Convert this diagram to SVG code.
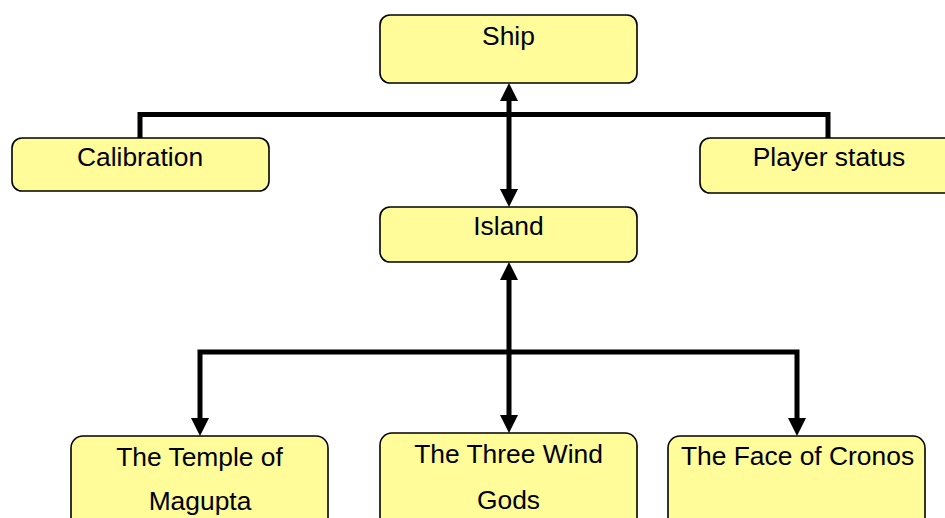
<svg xmlns="http://www.w3.org/2000/svg" width="945" height="518" viewBox="0 0 945 518">
  <style>
    .box { fill: #FFFC99; stroke: #000; stroke-width: 1.6; }
    .lbl { font-family: "Liberation Sans", Arial, sans-serif; font-size: 26.4px; fill: #000; text-anchor: middle; }
    .wire { fill: none; stroke: #000; stroke-width: 5; }
  </style>
  <defs>
    <marker id="arrow" markerUnits="userSpaceOnUse" markerWidth="18" markerHeight="18" refX="0" refY="9" orient="auto-start-reverse" viewBox="0 0 18 18">
      <path d="M0,0 L18,9 L0,18 z" fill="#000"/>
    </marker>
  </defs>

  <rect width="945" height="518" fill="#fff"/>

  <!-- connectors -->
  <g id="connectors">
    <path class="wire" d="M140,138 V114.5 H828 V138"/>
    <path class="wire" d="M509,101 V189" marker-start="url(#arrow)" marker-end="url(#arrow)"/>
    <path class="wire" d="M200,418 V352 H797 V418" marker-start="url(#arrow)" marker-end="url(#arrow)"/>
    <path class="wire" d="M509,280 V415" marker-start="url(#arrow)" marker-end="url(#arrow)"/>
  </g>

  <g id="ship">
    <rect class="box" x="380" y="15" width="257" height="68" rx="10"/>
    <text class="lbl" x="508.5" y="45">Ship</text>
  </g>
  <g id="calibration">
    <rect class="box" x="12" y="138" width="257" height="53" rx="10"/>
    <text class="lbl" x="140" y="166">Calibration</text>
  </g>
  <g id="player-status">
    <rect class="box" x="700" y="138" width="257" height="55" rx="10"/>
    <text class="lbl" x="829" y="166">Player status</text>
  </g>
  <g id="island">
    <rect class="box" x="380" y="207" width="257" height="55" rx="10"/>
    <text class="lbl" x="508.5" y="235">Island</text>
  </g>
  <g id="temple">
    <rect class="box" x="71" y="436" width="257" height="100" rx="12"/>
    <text class="lbl" x="199.5" y="466">The Temple of</text>
    <text class="lbl" x="200" y="510">Magupta</text>
  </g>
  <g id="wind-gods">
    <rect class="box" x="380" y="433" width="257" height="100" rx="12"/>
    <text class="lbl" x="508.5" y="463">The Three Wind</text>
    <text class="lbl" x="508.5" y="509">Gods</text>
  </g>
  <g id="cronos">
    <rect class="box" x="668" y="436" width="257" height="100" rx="12"/>
    <text class="lbl" x="797.5" y="465">The Face of Cronos</text>
  </g>
</svg>
